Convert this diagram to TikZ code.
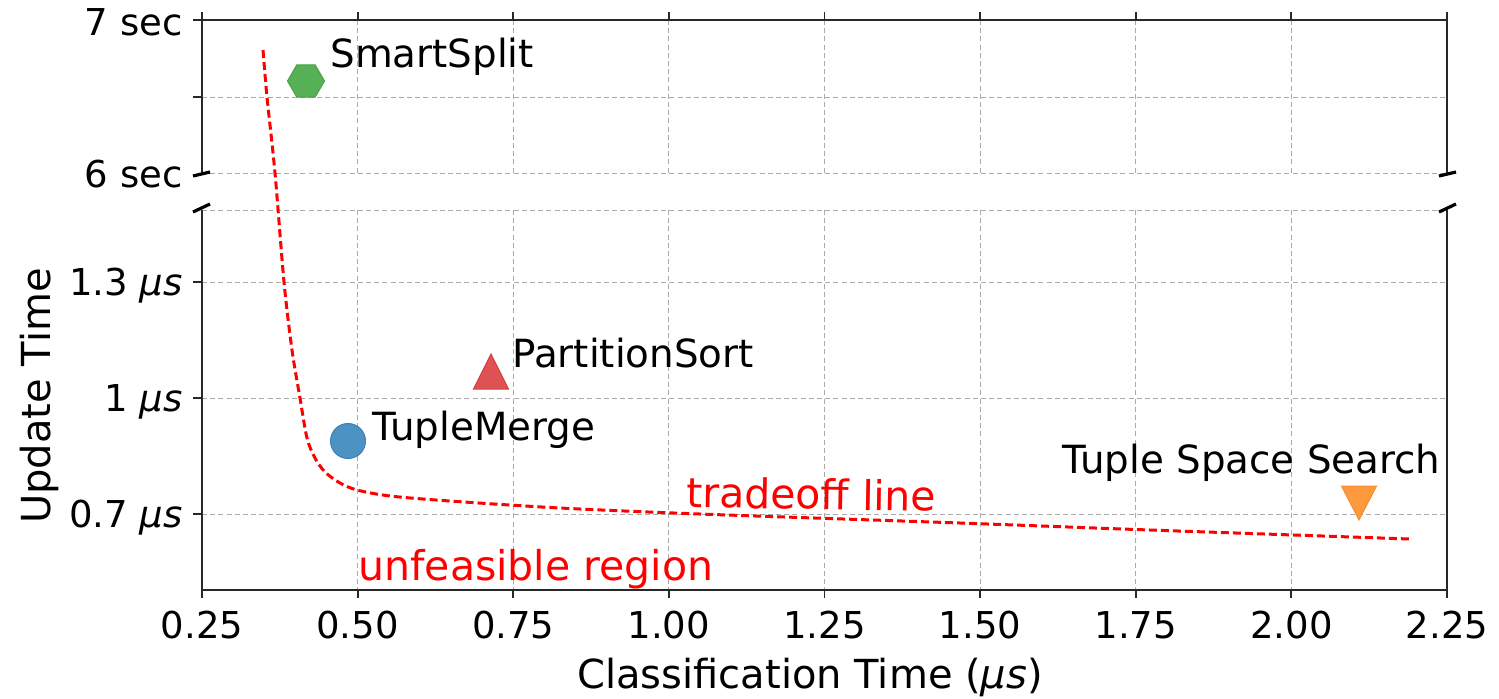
\documentclass[tikz,border=0pt]{standalone}
\usepackage{fontspec}
\setmainfont{DejaVu Sans}
\usetikzlibrary{shapes.geometric}
\definecolor{mgreen}{RGB}{86,176,86}
\definecolor{mgreenE}{RGB}{70,160,70}
\definecolor{mblue}{RGB}{76,146,195}
\definecolor{mblueE}{RGB}{60,130,180}
\definecolor{mred}{RGB}{222,82,83}
\definecolor{mredE}{RGB}{205,65,66}
\definecolor{morange}{RGB}{255,153,62}
\definecolor{morangeE}{RGB}{245,140,50}
\definecolor{gridgray}{RGB}{170,170,170}
\definecolor{spine}{RGB}{40,40,40}
\tikzset{
  gridline/.style={draw=gridgray, line width=0.5pt, dash pattern=on 2.5pt off 1.6pt},
  spineline/.style={draw=spine, line width=1.2pt},
  tickline/.style={draw=spine, line width=0.9pt},
  breakmark/.style={draw=black, line width=1.6pt},
  ticklabel/.style={inner sep=0pt, font=\fontsize{18.5}{22}\selectfont},
  annot/.style={inner sep=0pt, font=\fontsize{19.4}{23}\selectfont},
  redtext/.style={inner sep=0pt, text=red, font=\fontsize{20.5}{24}\selectfont},
  axlabel/.style={inner sep=0pt, font=\fontsize{20}{24}\selectfont},
  tradeoff/.style={draw=red, line width=1.5pt, dash pattern=on 4pt off 2pt}
}
\begin{document}
\begin{tikzpicture}[x=0.5pt,y=-0.5pt]
\useasboundingbox (0,0) rectangle (1499,698);
% vertical grid
\foreach \x in {357.625,513.25,668.875,824.5,980.125,1135.75,1291.375}{
  \draw[gridline] (\x,20) -- (\x,173);
  \draw[gridline] (\x,210) -- (\x,590);
}
% horizontal grid
\foreach \y in {97,173,210,282,398,514}{
  \draw[gridline] (202,\y) -- (1447,\y);
}
% spines top panel
\draw[spineline] (202,173) -- (202,20) -- (1447,20) -- (1447,173);
% spines bottom panel
\draw[spineline] (202,210) -- (202,590) -- (1447,590) -- (1447,210);
% ticks
\foreach \x in {202,357.625,513.25,668.875,824.5,980.125,1135.75,1291.375,1447}{
  \draw[tickline] (\x,20) -- (\x,12);
  \draw[tickline] (\x,590) -- (\x,598);
}
\foreach \y in {20,97,282,398,514}{
  \draw[tickline] (202,\y) -- (193,\y);
}
% break marks
\draw[breakmark] (193,176) -- (210,172);
\draw[breakmark] (193,212) -- (210,204);
\draw[breakmark] (1439,176) -- (1456,172);
\draw[breakmark] (1439,212) -- (1456,204);
% y tick labels
\node[ticklabel, anchor=base east] (y7) at (183,35) {7 sec};
\node[ticklabel, anchor=base east] (y6) at (183,187) {6 sec};
\node[ticklabel, anchor=base east] (y13) at (183,295) {1.3 \textit{μs}};
\node[ticklabel, anchor=base east] (y10) at (183,411) {1 \textit{μs}};
\node[ticklabel, anchor=base east] (y07) at (183,527) {0.7 \textit{μs}};
% x tick labels
\foreach \x/\l [count=\i] in {202/0.25,357.625/0.50,513.25/0.75,668.875/1.00,824.5/1.25,980.125/1.50,1135.75/1.75,1291.375/2.00,1447/2.25}{
  \node[ticklabel, anchor=base] (xt\i) at (\x,638) {\l};
}
% axis labels
\node[axlabel, anchor=base] (xlab) at (810,688) {Classification Time (\textit{μs})};
\node[axlabel, anchor=base, rotate=90] (ylab) at (50,396) {Update Time};
% tradeoff curve
\draw[tradeoff] plot[smooth, tension=0.5] coordinates {
 (263,50) (267,97) (275,173) (284,282) (292,350) (300,398) (307,438) (315,458)
 (325,472) (340,483) (357,490) (390,496) (450,501) (560,508) (700,514)
 (960,523) (1150,530) (1410,539)};
% markers
\node[regular polygon, regular polygon sides=6, minimum size=18.5pt, inner sep=0pt,
      fill=mgreen, draw=mgreenE, line width=0.5pt] (ss) at (306,81) {};
\node[circle, minimum size=17.5pt, inner sep=0pt, fill=mblue, draw=mblueE, line width=0.5pt] (tm) at (348,441) {};
\coordinate (ps) at (491,372);
\filldraw[fill=mred, draw=mredE, line width=0.5pt] (491,354) -- (508.5,389) -- (473.5,389) -- cycle;
\coordinate (tss) at (1359,503);
\filldraw[fill=morange, draw=morangeE, line width=0.5pt] (1341.5,486) -- (1376.5,486) -- (1359,520) -- cycle;
% annotations
\node[annot, anchor=base west] (lss) at (330,67) {SmartSplit};
\node[annot, anchor=base west] (lps) at (512,367) {PartitionSort};
\node[annot, anchor=base west] (ltm) at (372,440) {TupleMerge};
\node[annot, anchor=base west] (ltss) at (1062,473) {Tuple Space Search};
\node[redtext, anchor=base west, rotate=-1] (ltl) at (686,507) {tradeoff line};
\node[redtext, anchor=base west] (lur) at (358,580) {unfeasible region};
\end{tikzpicture}
\end{document}
